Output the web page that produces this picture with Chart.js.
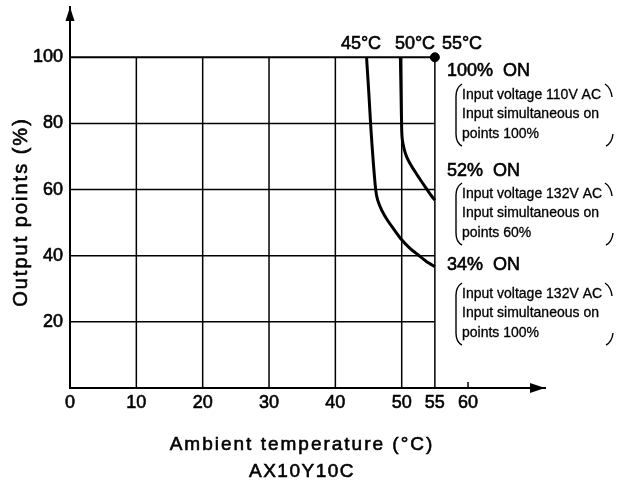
<!DOCTYPE html>
<html>
<head>
<meta charset="utf-8">
<script src="https://cdn.jsdelivr.net/npm/chart.js@4.4.0/dist/chart.umd.min.js"></script>
<style>
  html, body { margin: 0; padding: 0; background: #fff; }
  canvas { display: block; }
</style>
</head>
<body>
<canvas id="deratingChart" width="617" height="488"></canvas>
<script>
const xTicks = [0, 10, 20, 30, 40, 50, 55, 60];
const yTicks = [20, 40, 60, 80, 100];
const gridX = [10, 20, 30, 40, 50, 55];
const gridY = [20, 40, 60, 80, 100];

// 132V AC, 100% simultaneous on -> 34% ON
const curve34Temp = [44.7, 45.05, 45.37, 45.73, 46.08, 46.38, 46.98, 47.83, 48.89, 50.0, 51.25, 52.5, 53.77, 55];
const curve34Out  = [100, 89, 78, 67.9, 59.9, 56.8, 53.8, 50.8, 47.8, 44.8, 42.2, 40.2, 38.2, 36.7];
// 132V AC, 60% simultaneous on -> 52% ON
const curve52Temp = [49.8, 49.9, 50.0, 50.1, 50.4, 50.75, 51.25, 51.85, 52.5, 53.17, 53.86, 54.6, 55];
const curve52Out  = [100, 89, 78, 75, 72, 69.9, 67.9, 65.9, 63.9, 61.9, 59.9, 57.8, 56.8];
// 110V AC -> 100% ON up to 55
const fullOnTemp = [55];
const fullOnOut = [100];

const tempLabels = ['45°C', '50°C', '55°C'];
const onLabels = ['100%  ON', '52%  ON', '34%  ON'];
const noteLines = [
    ['Input voltage 110V AC', 'Input simultaneous on', 'points 100%'],
    ['Input voltage 132V AC', 'Input simultaneous on', 'points 60%'],
    ['Input voltage 132V AC', 'Input simultaneous on', 'points 100%']
];

const FONT = '"Liberation Sans", Arial, Helvetica, sans-serif';
Chart.defaults.font.family = FONT;
Chart.defaults.color = '#000';

const toPoints = (xs, ys) => xs.map((x, i) => ({ x, y: ys[i] }));

// slightly heavier text, like the scanned original
function heavyText(ctx, text, x, y, spacing, stroke) {
    ctx.letterSpacing = (spacing || 0) + 'px';
    ctx.fillText(text, x, y);
    if (stroke) {
        ctx.lineWidth = stroke;
        ctx.strokeText(text, x, y);
    }
    ctx.letterSpacing = '0px';
}

const decor = {
    id: 'decor',
    beforeDatasetsDraw(chart) {
        const { ctx, scales: { x, y }, chartArea } = chart;
        ctx.save();
        ctx.strokeStyle = '#000';
        // grid box 0..55 / 0..100
        gridX.forEach(v => {
            ctx.lineWidth = 1.5;
            ctx.beginPath();
            ctx.moveTo(x.getPixelForValue(v), y.getPixelForValue(0));
            ctx.lineTo(x.getPixelForValue(v), y.getPixelForValue(100));
            ctx.stroke();
        });
        gridY.forEach(v => {
            ctx.lineWidth = v === 100 ? 2.2 : 1.5;
            ctx.beginPath();
            ctx.moveTo(x.getPixelForValue(0), y.getPixelForValue(v));
            ctx.lineTo(x.getPixelForValue(55), y.getPixelForValue(v));
            ctx.stroke();
        });
        // little tick at 60
        ctx.lineWidth = 1.5;
        ctx.beginPath();
        ctx.moveTo(x.getPixelForValue(60), chartArea.bottom - 6);
        ctx.lineTo(x.getPixelForValue(60), chartArea.bottom);
        ctx.stroke();
        ctx.restore();
    },
    afterDraw(chart) {
        const { ctx, chartArea } = chart;
        const l = chartArea.left, b = chartArea.bottom;
        ctx.save();
        ctx.fillStyle = '#000';
        ctx.strokeStyle = '#000';

        // axis arrows
        ctx.beginPath();
        ctx.moveTo(l, chartArea.top);
        ctx.lineTo(l - 4.5, chartArea.top + 14);
        ctx.lineTo(l + 4.5, chartArea.top + 14);
        ctx.closePath();
        ctx.fill();
        ctx.beginPath();
        ctx.moveTo(chartArea.right, b);
        ctx.lineTo(chartArea.right - 15, b - 5);
        ctx.lineTo(chartArea.right - 15, b + 5);
        ctx.closePath();
        ctx.fill();

        // temperature labels above the curves
        ctx.font = '18px ' + FONT;
        ctx.textAlign = 'center';
        ctx.textBaseline = 'alphabetic';
        [361, 415, 462].forEach((px, i) => heavyText(ctx, tempLabels[i], px, 49, 0, 0.6));

        // ON labels
        ctx.textAlign = 'left';
        ctx.textBaseline = 'middle';
        [71, 171, 265].forEach((py, i) => heavyText(ctx, onLabels[i], 447, py, 0, 0.6));

        // notes with brackets
        ctx.font = '14px ' + FONT;
        [84, 183, 283].forEach((top, i) => {
            noteLines[i].forEach((t, j) => heavyText(ctx, t, 462, top + 11 + j * 19.5, 0, 0.3));
            const bot = top + 62;
            ctx.lineWidth = 1.4;
            ctx.beginPath();
            ctx.moveTo(462, top);
            ctx.quadraticCurveTo(456, top + 4, 456, top + 12);
            ctx.lineTo(456, bot - 12);
            ctx.quadraticCurveTo(456, bot - 3, 462, bot);
            ctx.stroke();
            ctx.beginPath();
            ctx.moveTo(605, top);
            ctx.quadraticCurveTo(611, top + 4, 612, top + 13);
            ctx.stroke();
            ctx.beginPath();
            ctx.moveTo(613, bot - 12);
            ctx.quadraticCurveTo(612, bot - 3, 606, bot);
            ctx.stroke();
        });

        // axis titles
        ctx.textAlign = 'center';
        ctx.font = '19px ' + FONT;
        heavyText(ctx, 'Ambient temperature (°C)', 302, 445, 2, 0.6);
        heavyText(ctx, 'AX10Y10C', 302, 472, 1.5, 0.6);
        ctx.translate(21, 212);
        ctx.rotate(-Math.PI / 2);
        ctx.font = '20px ' + FONT;
        heavyText(ctx, 'Output points (%)', 0, 0, 2, 0.6);
        ctx.restore();
    }
};

new Chart(document.getElementById('deratingChart'), {
    type: 'scatter',
    data: {
        datasets: [
            {
                data: toPoints(curve34Temp, curve34Out),
                showLine: true,
                borderColor: '#000',
                borderWidth: 3,
                pointRadius: 0,
                tension: 0.2
            },
            {
                data: toPoints(curve52Temp, curve52Out),
                showLine: true,
                borderColor: '#000',
                borderWidth: 3,
                pointRadius: 0,
                tension: 0.2
            },
            {
                data: toPoints(fullOnTemp, fullOnOut),
                pointRadius: 4.5,
                backgroundColor: '#000',
                borderColor: '#000'
            }
        ]
    },
    options: {
        responsive: false,
        animation: false,
        devicePixelRatio: 1,
        layout: { padding: { left: 0, top: 7, right: 72, bottom: 0 } },
        plugins: { legend: { display: false }, tooltip: { enabled: false } },
        scales: {
            x: {
                type: 'linear',
                min: 0,
                max: 71.6,
                grid: { display: false, drawTicks: false },
                border: { display: true, color: '#000', width: 2 },
                ticks: {
                    font: { size: 18 }, padding: 4, autoSkip: false, maxRotation: 0,
                    textStrokeColor: '#000', textStrokeWidth: 0.6
                },
                afterBuildTicks: s => { s.ticks = xTicks.map(v => ({ value: v })); },
                afterFit: s => { s.height = 100; s.paddingLeft = 0; s.paddingRight = 0; }
            },
            y: {
                type: 'linear',
                min: 0,
                max: 115.2,
                grid: { display: false, drawTicks: false },
                border: { display: true, color: '#000', width: 2 },
                ticks: {
                    font: { size: 18 }, padding: 7,
                    textStrokeColor: '#000', textStrokeWidth: 0.6
                },
                afterBuildTicks: s => { s.ticks = yTicks.map(v => ({ value: v })); },
                afterFit: s => { s.width = 70; s.paddingTop = 0; s.paddingBottom = 0; }
            }
        }
    },
    plugins: [decor]
});
</script>
</body>
</html>
